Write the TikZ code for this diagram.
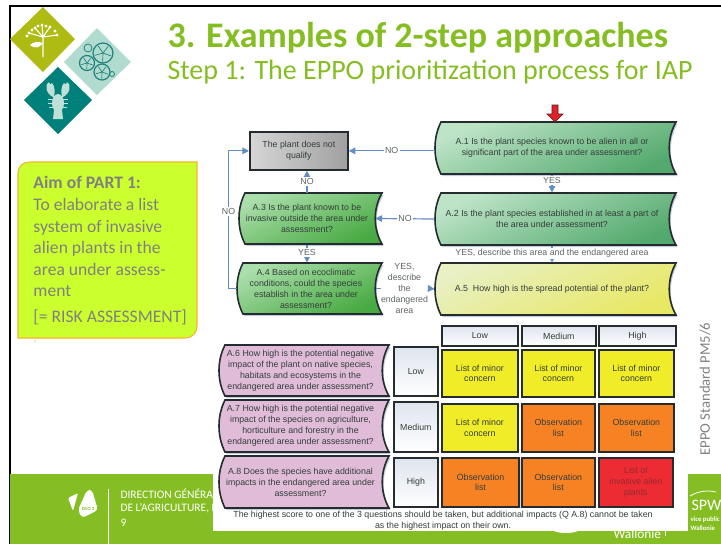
\documentclass[tikz,border=0pt]{standalone}
\usepackage{fontspec}
\setmainfont{Carlito}
\newfontfamily\chartfont{Liberation Sans}
\usetikzlibrary{arrows.meta,shadows}

\definecolor{leafgreen}{RGB}{133,190,34}
\definecolor{lineblue}{RGB}{98,140,196}
\definecolor{chartink}{RGB}{52,62,58}
\definecolor{boxedge}{RGB}{36,44,48}

\tikzset{every picture/.style={line width=0.75pt}}
\tikzset{
  chartlabel/.style={font=\chartfont\fontsize{6.6}{8.2}\selectfont, text=chartink, align=center, inner sep=0.75pt},
  flowlink/.style={color=lineblue, line width=0.9pt},
  flowarrow/.style={flowlink, -{Triangle[length=5pt,width=5pt]}},
  linklabel/.style={chartlabel, fill=white, inner sep=1pt, text={rgb,255:red,95;green,100;blue,100}},
  greenpale/.style={left color={rgb,255:red,190;green,228;blue,200}, right color={rgb,255:red,84;green,170;blue,110}, shading angle=25},
  greenfull/.style={left color={rgb,255:red,170;green,222;blue,170}, right color={rgb,255:red,72;green,170;blue,66}, shading angle=25},
  yellowpale/.style={left color={rgb,255:red,232;green,240;blue,196}, right color={rgb,255:red,232;green,232;blue,100}, shading angle=25},
  pinkflat/.style={fill={rgb,255:red,224;green,188;blue,216}},
  gridcell/.style={draw=boxedge, line width=1.3pt, chartlabel, anchor=north west, inner sep=0pt, drop shadow={shadow xshift=1pt, shadow yshift=-1pt, opacity=0.3, fill={rgb,255:red,120;green,140;blue,170}}},
  minorcell/.style={gridcell, fill={rgb,255:red,240;green,236;blue,40}},
  obscell/.style={gridcell, fill={rgb,255:red,246;green,130;blue,36}},
  redcell/.style={gridcell, fill={rgb,255:red,236;green,44;blue,50}},
  headcell/.style={gridcell, top color={rgb,255:red,222;green,228;blue,238}, bottom color=white},
  footertext/.style={anchor=west, inner sep=0pt, text=white, font=\fontsize{8.6}{10}\selectfont},
  crayfish/.style={color={rgb,255:red,190;green,224;blue,214}},
  leafline/.style={color={rgb,255:red,30;green,130;blue,125}},
}
% name, x1, y1, x2, y2, fill style, text
\newcommand{\wavebox}[7]{
  \path [fill={rgb,255:red,120;green,140;blue,170}, fill opacity=0.45, shift={(1.5,2)}] (#2+6,#3) -- (#4,#3) .. controls (#4-9,#3+0.3*#5-0.3*#3) and (#4-9,#3+0.7*#5-0.7*#3) .. (#4,#5) -- (#2+6,#5) .. controls (#2-2,#3+0.7*#5-0.7*#3) and (#2-2,#3+0.3*#5-0.3*#3) .. (#2+6,#3) -- cycle ;
  \draw [#6, draw=boxedge, line width=1.2pt] (#2+6,#3) -- (#4,#3) .. controls (#4-9,#3+0.3*#5-0.3*#3) and (#4-9,#3+0.7*#5-0.7*#3) .. (#4,#5) -- (#2+6,#5) .. controls (#2-2,#3+0.7*#5-0.7*#3) and (#2-2,#3+0.3*#5-0.3*#3) .. (#2+6,#3) -- cycle ;
  \node [chartlabel, inner sep=0pt, minimum width={(#4-7-#2)*0.75pt}, minimum height={(#5-#3)*0.75pt}] (#1) at ({(#2+#4-7)/2},{(#3+#5)/2}) {#7};
}

\begin{document}
\begin{tikzpicture}[x=0.75pt,y=0.75pt,yscale=-1,xscale=1]
\useasboundingbox (0,0) rectangle (721,544);

%Frame
\draw [line width=1.5pt] (9.5,544) -- (9.5,5.7) -- (721,5.7) ;

%Footer band
\fill [leafgreen] (10.2,474) rectangle (721,544) ;
\draw [white, line width=0.6pt] (108.5,489) -- (108.5,544) ;
\node [footertext] (direction) at (120,494) {DIRECTION GÉNÉRA};
\node [footertext] (agriculture) at (120,508) {DE L’AGRICULTURE, D};
\node [footertext] (pagenum) at (120,523) {9};
\node [anchor=west, inner sep=0pt, text=white, font=\fontsize{12}{12}\selectfont] (spw) at (691,505) {SPW};
\node [anchor=west, inner sep=0pt, text=white, font=\bfseries\fontsize{5}{6}\selectfont] (service) at (690,520) {vice public};
\node [anchor=west, inner sep=0pt, text=white, font=\bfseries\fontsize{5}{6}\selectfont] (walloniesmall) at (690,528) {Wallonie};
\node [anchor=west, inner sep=0pt, text=white, font=\fontsize{10}{10}\selectfont] (wallonie) at (613,534) {Wallonie};
\draw [white, line width=0.5pt] (665,530) -- (665,536) ;
\draw [white, line width=0.6pt] (690,496) .. controls (698,491) and (708,490) .. (716,492) ;

%DGO logo
\fill [white, rounded corners=1pt] (68,498) -- (78,493) -- (73,511) -- cycle ;
\fill [white, rounded corners=2.5pt] (87,490) -- (92,490) -- (98,510) -- (82,518) -- (78,510) -- cycle ;
\node [inner sep=0pt, text=leafgreen, font=\bfseries\fontsize{3.5}{4}\selectfont] (dgo) at (88,509) {DGO 3};

%Chart background
\fill [white] (213,95) rectangle (688,531) ;
\fill [white] (552,530) .. controls (558,534) and (574,534) .. (580,530) -- cycle ;

%Shape: diamonds
\fill [fill={rgb,255:red,174;green,187;blue,18}] (10,39) -- (43,7) -- (75,39) -- (43,72) -- cycle ;
\fill [fill={rgb,255:red,178;green,219;blue,208}] (64,62) -- (97,28) -- (131,62) -- (97,95) -- cycle ;
\fill [fill={rgb,255:red,0;green,128;blue,122}] (24,100) -- (58,67) -- (92,100) -- (58,134) -- cycle ;

%Plant icon
\draw [white, line width=0.8pt] (43,57) -- (43,37) (43,37) -- (29,33) (43,37) -- (35,28) (43,37) -- (42,25) (43,37) -- (50,27) (43,37) -- (57,35) ;
\foreach \dotx/\doty in {29/33,27/36,35/28,32/30,42/25,38/26,50/27,46/26,57/35,55/31}{
  \fill [white] (\dotx,\doty) circle [radius=1.6] ;
}
\fill [white] (43,43) .. controls (38,41) and (33,42) .. (30,45) .. controls (34,49) and (40,48) .. (43,43) -- cycle ;

%Leaf icon
\draw [leafline, line width=0.6pt] (88,48) circle [radius=4] (112,74) circle [radius=2.5] ;
\foreach \leafx/\leafy/\leafr in {103/53/10,87/63/7.5,102/72/8}{
  \draw [leafline, line width=0.9pt, fill={rgb,255:red,178;green,219;blue,208}] (\leafx,\leafy) circle [radius=\leafr] ;
  \foreach \veinang in {20,92,164,236,308}{
    \draw [leafline, line width=0.5pt] (\leafx,\leafy) -- ++(\veinang:\leafr-1.5) ;
  }
}

%Crayfish icon
\fill [crayfish] (58,103) ellipse [x radius=6, y radius=9] ;
\fill [crayfish] (54,110) -- (62,110) -- (63,119) -- (53,119) -- cycle ;
\fill [crayfish] (53,97) .. controls (46,94) and (44,84) .. (49,82) .. controls (50,85) and (51,85) .. (52,83) .. controls (55,86) and (55,92) .. (54,97) -- cycle ;
\fill [crayfish] (63,97) .. controls (70,94) and (72,84) .. (67,82) .. controls (66,85) and (65,85) .. (64,83) .. controls (61,86) and (61,92) .. (62,97) -- cycle ;
\draw [crayfish, line width=0.7pt] (48,99) -- (68,99) (48,103) -- (68,103) (49,107) -- (67,107) ;

% Text Node
\node [anchor=west, inner sep=0pt, text=leafgreen, font=\bfseries\fontsize{27}{30}\selectfont] (title) at (167,38) {3. Examples of 2-step approaches};
% Text Node
\node [anchor=west, inner sep=0pt, text=leafgreen, font=\fontsize{21}{24}\selectfont] (subtitle) at (167,72) {Step 1: The EPPO prioritization process for IAP};

%Aim box
\draw [color={rgb,255:red,245;green,180;blue,40}, fill={rgb,255:red,204;green,255;blue,46}, line width=0.8pt] (18,338) -- (18,173) .. controls (18,166) and (23,162) .. (30,162) -- (197,162) -- (197,326) .. controls (197,333) and (192,338) .. (185,338) -- cycle ;
% Text Node
\node [anchor=north west, inner sep=0pt, text={rgb,255:red,128;green,128;blue,128}, align=left, font=\fontsize{13.2}{16.2}\selectfont] (aim) at (33,176) {\textbf{Aim of PART 1:}\\To elaborate a list\\system of invasive\\alien plants in the\\area under assess-\\ment\\[3pt][= RISK ASSESSMENT]};
\fill [color={rgb,255:red,128;green,128;blue,128}] (35,341) circle [radius=0.7] ;

%Flow boxes
\wavebox{aone}{435}{122}{676}{174}{greenpale}{A.1 Is the plant species known to be alien in all or\\significant part of the area under assessment?}
\wavebox{atwo}{435}{193}{676}{245}{greenpale}{A.2 Is the plant species established in at least a part of\\the area under assessment?}
\wavebox{afive}{435}{263}{676}{315}{yellowpale}{A.5\ \ How high is the spread potential of the plant?}
\wavebox{athree}{239}{193}{382}{244}{greenfull}{A.3 Is the plant known to be\\invasive outside the area under\\assessment?}
\wavebox{afour}{237}{263}{382}{314}{greenfull}{A.4 Based on ecoclimatic\\conditions, could the species\\establish in the area under\\assessment?}
\wavebox{asix}{219}{345}{389}{396}{pinkflat}{A.6 How high is the potential negative\\impact of the plant on native species,\\habitats and ecosystems in the\\endangered area under assessment?}
\wavebox{aseven}{219}{400}{389}{452}{pinkflat}{A.7 How high is the potential negative\\impact of the species on agriculture,\\horticulture and forestry in the\\endangered area under assessment?}
\wavebox{aeight}{219}{456}{389}{508}{pinkflat}{A.8 Does the species have additional\\impacts in the endangered area under\\assessment?}

%Not qualify box
\node [gridcell, left color={rgb,255:red,214;green,214;blue,214}, right color={rgb,255:red,160;green,160;blue,160}, minimum width=73.5pt, minimum height=28.5pt] (noqualify) at (249,131) {The plant does not\\qualify};

%Connectors
\draw [flowarrow] (aone.west |- noqualify.east) -- (noqualify.east) node [linklabel, pos=0.5] (noone) {NO};
\draw [flowarrow] (atwo.west) -- (athree.east) node [linklabel, pos=0.5] (notwo) {NO};
\draw [flowarrow] (athree.north) -- (athree.north |- noqualify.south) node [linklabel, pos=0.5] (nothree) {NO};
\draw [flowarrow] (afour.west) -- ++(-8,0) |- (noqualify.west) node [linklabel, pos=0.28] (nofour) {NO};
\draw [flowarrow] (aone.south) -- (atwo.north) node [linklabel, pos=0.32] (yesone) {YES};
\draw [flowarrow] (atwo.south) -- (afive.north) node [linklabel, pos=0.47] (yestwo) {YES, describe this area and the endangered area};
\draw [flowarrow] (athree.south) -- (athree.south |- afour.north) node [linklabel, pos=0.42] (yesthree) {YES};
\node [chartlabel, inner sep=0pt, text={rgb,255:red,95;green,100;blue,100}] (yesfour) at (404.5,288.5) {YES,\\describe\\the\\endangered\\area};
\draw [flowlink] (afour.east) -- (yesfour.west) ;
\draw [flowarrow] (yesfour.east) -- (afive.west) ;

%Start arrow
\draw [color={rgb,255:red,90;green,30;blue,30}, fill={rgb,255:red,226;green,32;blue,40}, line width=0.5pt] (552,105) -- (558,105) -- (558,114) -- (563,114) -- (555,122) -- (547,114) -- (552,114) -- cycle ;

%Score table
\node [headcell, minimum width=57pt, minimum height=15pt] (headlow) at (441,325) {Low};
\node [headcell, minimum width=55.5pt, minimum height=15pt] (headmed) at (521,325) {Medium};
\node [headcell, minimum width=57.75pt, minimum height=15pt] (headhigh) at (598,325) {High};
\node [headcell, minimum width=33pt, minimum height=36.75pt] (rowlow) at (393,346) {Low};
\node [headcell, minimum width=33pt, minimum height=37.5pt] (rowmed) at (393,401) {Medium};
\node [headcell, minimum width=33pt, minimum height=36.75pt] (rowhigh) at (393,457) {High};

\node [minorcell, minimum width=57pt, minimum height=35.25pt] (cellaa) at (441,349) {List of minor\\concern};
\node [minorcell, minimum width=54.75pt, minimum height=35.25pt] (cellab) at (521,349) {List of minor\\concern};
\node [minorcell, minimum width=56.25pt, minimum height=35.25pt] (cellac) at (598,349) {List of minor\\concern};
\node [minorcell, minimum width=57pt, minimum height=36pt] (cellba) at (441,403) {List of minor\\concern};
\node [obscell, minimum width=54.75pt, minimum height=36pt] (cellbb) at (521,403) {Observation\\list};
\node [obscell, minimum width=56.25pt, minimum height=36pt] (cellbc) at (598,403) {Observation\\list};
\node [obscell, minimum width=58pt, minimum height=36.75pt] (cellca) at (441,457) {Observation\\list};
\node [obscell, minimum width=54.75pt, minimum height=36.75pt] (cellcb) at (521,457) {Observation\\list};
\node [redcell, minimum width=55.5pt, minimum height=36.75pt, text={rgb,255:red,150;green,40;blue,50}] (cellcc) at (598,457) {List of\\invasive alien\\plants};

% Text Node
\node [chartlabel, inner sep=0pt] (footnote) at (443,521) {The highest score to one of the 3 questions should be taken, but additional impacts (Q A.8) cannot be taken\\as the highest impact on their own.};
% Text Node
\node [rotate=90, anchor=west, inner sep=0pt, text={rgb,255:red,128;green,128;blue,128}, font=\fontsize{11}{13}\selectfont] (standard) at (705,456) {EPPO Standard PM5/6};

\end{tikzpicture}
\end{document}
